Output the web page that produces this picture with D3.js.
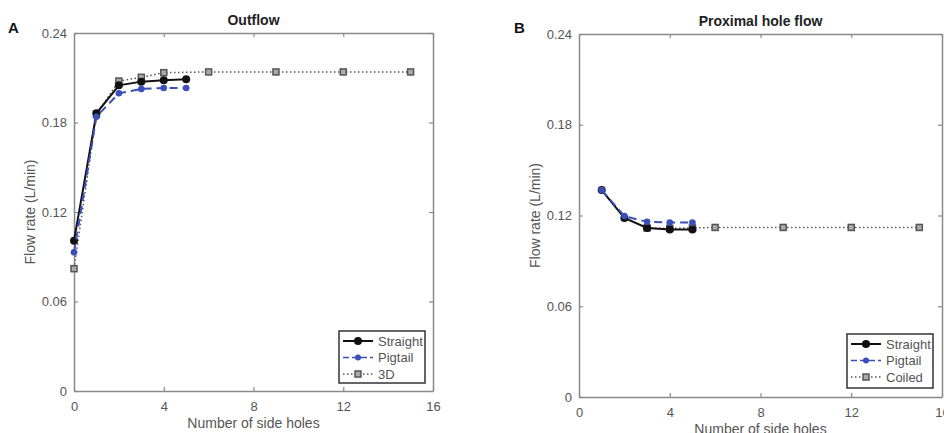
<!DOCTYPE html>
<html><head><meta charset="utf-8">
<script src="https://cdn.jsdelivr.net/npm/d3@7"></script>
<style>body{margin:0;background:#fff;}svg{display:block;font-family:"Liberation Sans",Arial,sans-serif;}</style>
</head><body><svg id="c" width="944" height="433"></svg>
<script>
// Panel A: Outflow
const outStraightX = [0,1,2,3,4,5];
const outStraightY = [0.1008,0.1862,0.2049,0.2074,0.2083,0.2090];
const outPigtailX = [0,1,2,3,4,5];
const outPigtailY = [0.0930,0.1839,0.1996,0.2025,0.2031,0.2031];
const out3DX = [0,1,2,3,4,6,9,12,15];
const out3DY = [0.0820,0.1855,0.2078,0.2103,0.2134,0.2139,0.2139,0.2139,0.2139];
// Panel B: Proximal hole flow
const proxStraightX = [1,2,3,4,5];
const proxStraightY = [0.1368,0.1184,0.1118,0.1108,0.1108];
const proxPigtailX = [1,2,3,4,5];
const proxPigtailY = [0.1368,0.1196,0.1158,0.1154,0.1154];
const proxCoiledX = [3,4,5,6,9,12,15];
const proxCoiledY = [0.1118,0.1115,0.1118,0.1121,0.1121,0.1121,0.1121];
const xTicks = [0,4,8,12,16];
const yTicks = [0,0.06,0.12,0.18,0.24];

const svg = d3.select("#c");
const AX = "#8a8a8a", TXT = "#555";

function panel(cfg){
  const g = svg.append("g");
  const x = d3.scaleLinear().domain([0,16]).range([cfg.l, cfg.r]);
  const y = d3.scaleLinear().domain([0,0.24]).range([cfg.b, cfg.t]);
  const yf = d => d===0 ? "0" : String(d);
  const gx = g.append("g").attr("transform",`translate(0,${cfg.b})`)
    .call(d3.axisBottom(x).tickValues(xTicks).tickSizeInner(-4).tickSizeOuter(0).tickPadding(11).tickFormat(d=>d));
  const gy = g.append("g").attr("transform",`translate(${cfg.l},0)`)
    .call(d3.axisLeft(y).tickValues(yTicks).tickSizeInner(-4).tickSizeOuter(0).tickPadding(7).tickFormat(yf));
  const gt = g.append("g").attr("transform",`translate(0,${cfg.t})`)
    .call(d3.axisTop(x).tickValues(xTicks).tickSizeInner(-4).tickSizeOuter(0).tickFormat(""));
  const gr = g.append("g").attr("transform",`translate(${cfg.r},0)`)
    .call(d3.axisRight(y).tickValues(yTicks).tickSizeInner(-4).tickSizeOuter(0).tickFormat(""));
  [gx,gy,gt,gr].forEach(a=>{
    a.selectAll("path.domain").attr("stroke",AX).attr("stroke-width",1.5);
    a.selectAll(".tick line").attr("stroke",AX).attr("stroke-width",1.2);
    a.selectAll("text").attr("fill",TXT).attr("font-size",13).attr("font-family","Liberation Sans, Arial, sans-serif");
  });
  g.append("text").attr("x",(cfg.l+cfg.r)/2).attr("y",cfg.t-8).attr("text-anchor","middle")
    .attr("font-weight","bold").attr("font-size",14).attr("fill","#222").text(cfg.title);
  g.append("text").attr("x",cfg.panelX).attr("y",33).attr("font-weight","bold").attr("font-size",15).attr("fill","#111").text(cfg.letter);
  g.append("text").attr("transform",`translate(${cfg.yLabX},${(cfg.t+cfg.b)/2}) rotate(-90)`).attr("text-anchor","middle")
    .attr("font-size",14).attr("fill",TXT).text("Flow rate (L/min)");
  g.append("text").attr("x",(cfg.l+cfg.r)/2).attr("y",cfg.b+37).attr("text-anchor","middle")
    .attr("font-size",14).attr("fill",TXT).text("Number of side holes");

  const line = d3.line().x(d=>x(d[0])).y(d=>y(d[1]));
  const zip = (a,b)=>a.map((v,i)=>[v,b[i]]);
  const s3 = zip(cfg.s3x,cfg.s3y), sP = zip(cfg.pX,cfg.pY), sS = zip(cfg.sX,cfg.sY);
  g.append("path").attr("d",line(s3)).attr("fill","none").attr("stroke","#555").attr("stroke-width",1.5).attr("stroke-dasharray","1.5,2.5");
  g.selectAll(null).data(s3).enter().append("rect").attr("x",d=>x(d[0])-3).attr("y",d=>y(d[1])-3)
    .attr("width",6).attr("height",6).attr("fill","#aaa").attr("stroke","#555").attr("stroke-width",1.5);
  g.append("path").attr("d",line(sS)).attr("fill","none").attr("stroke","#111").attr("stroke-width",2);
  g.selectAll(null).data(sS).enter().append("circle").attr("cx",d=>x(d[0])).attr("cy",d=>y(d[1])).attr("r",4).attr("fill","#111");
  g.append("path").attr("d",line(sP)).attr("fill","none").attr("stroke","#3a50b8").attr("stroke-width",2).attr("stroke-dasharray","8,5");
  g.selectAll(null).data(sP).enter().append("circle").attr("cx",d=>x(d[0])).attr("cy",d=>y(d[1])).attr("r",3.3).attr("fill","#3a50b8");

  const L = cfg.leg;
  const lg = g.append("g").attr("transform",`translate(${L.x},${L.y})`);
  lg.append("rect").attr("width",L.w).attr("height",L.h).attr("fill","#fff").attr("stroke","#333").attr("stroke-width",1.5);
  const items = [
    {name:"Straight", col:"#111", dash:null, mk:"c4"},
    {name:"Pigtail", col:"#3a50b8", dash:"6,3", mk:"c3"},
    {name:cfg.thirdName, col:"#555", dash:"1.5,2.5", mk:"sq"}
  ];
  items.forEach((it,i)=>{
    const yy = 10 + i*16.5;
    lg.append("line").attr("x1",4).attr("x2",34).attr("y1",yy).attr("y2",yy).attr("stroke",it.col)
      .attr("stroke-width", i===0?2:1.5).attr("stroke-dasharray",it.dash);
    if(it.mk==="sq") lg.append("rect").attr("x",16).attr("y",yy-3).attr("width",6).attr("height",6).attr("fill","#aaa").attr("stroke","#555").attr("stroke-width",1.5);
    else lg.append("circle").attr("cx",19).attr("cy",yy).attr("r",it.mk==="c4"?4:3).attr("fill",it.col);
    lg.append("text").attr("x",39).attr("y",yy+4.5).attr("font-size",13).attr("fill",TXT).text(it.name);
  });
}

panel({l:74,r:433,t:33,b:391,title:"Outflow",letter:"A",panelX:8,yLabX:35,
  sX:outStraightX,sY:outStraightY,pX:outPigtailX,pY:outPigtailY,s3x:out3DX,s3y:out3DY,thirdName:"3D",
  leg:{x:339,y:331,w:86,h:52}});
panel({l:579,r:942,t:34,b:397,title:"Proximal hole flow",letter:"B",panelX:514,yLabX:540,
  sX:proxStraightX,sY:proxStraightY,pX:proxPigtailX,pY:proxPigtailY,s3x:proxCoiledX,s3y:proxCoiledY,thirdName:"Coiled",
  leg:{x:847,y:334,w:86,h:54}});
</script></body></html>
